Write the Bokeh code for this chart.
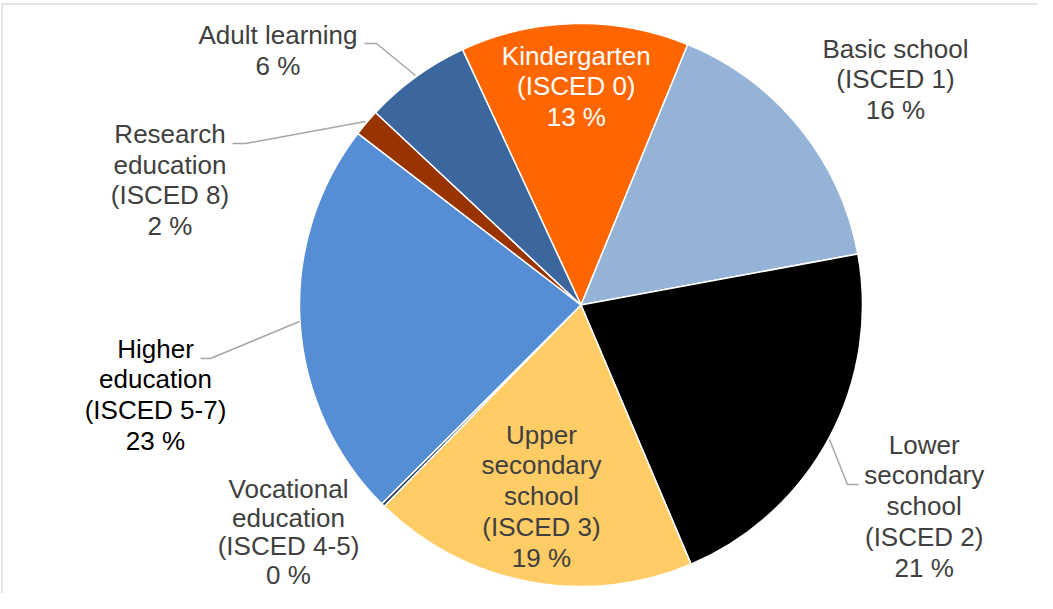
import numpy as np
from bokeh.plotting import figure
from bokeh.models import Range1d, ColumnDataSource
from bokeh.embed import file_html
from bokeh.resources import INLINE
from bokeh.core.properties import value

# ---------------- data ----------------
categories = ["Kindergarten (ISCED 0)", "Basic school (ISCED 1)",
              "Lower secondary school (ISCED 2)", "Upper secondary school (ISCED 3)",
              "Vocational education (ISCED 4-5)", "Higher education (ISCED 5-7)",
              "Research education (ISCED 8)", "Adult learning"]
shares = [13.1, 15.9, 21.5, 18.7, 0.2, 22.9, 1.55, 6.1]
pct_text = ["13 %", "16 %", "21 %", "19 %", "0 %", "23 %", "2 %", "6 %"]
name_lines = [["Kindergarten", "(ISCED 0)"],
              ["Basic school", "(ISCED 1)"],
              ["Lower", "secondary", "school", "(ISCED 2)"],
              ["Upper", "secondary", "school", "(ISCED 3)"],
              ["Vocational", "education", "(ISCED 4-5)"],
              ["Higher", "education", "(ISCED 5-7)"],
              ["Research", "education", "(ISCED 8)"],
              ["Adult learning"]]

# ---------------- styles / layout ----------------
slice_colors = ["#FF6600", "#95B3D7", "#000000", "#FFCC66",
                "#243F60", "#558ED5", "#993300", "#3B679E"]
label_colors = ["#FFFFFF", "#404040", "#404040", "#404040",
                "#404040", "#000000", "#404040", "#404040"]
# label anchor (center x, first baseline y) in page pixels
label_anchor = [(583.8, 72.7), (903, 65.7), (931.7, 461.7), (549, 451.7),
                (296, 506), (163, 365.7), (177.5, 151), (285.5, 52)]
LINE_STEP = 30.7
TEXT_SHIFT = 9.5  # renderer baseline correction
leaders = [
    [(372, 51), (384, 51), (423, 83)],
    [(240, 151), (253, 151), (373, 129)],
    [(208, 366), (218, 366), (307, 329)],
    [(837, 447), (855, 492), (866, 492)],
]

W, H = 1037, 593


def X(px):
    return px - 8


def Y(py):
    return 8 + H - py


CX, CY, R = X(588.5), Y(312.5), 281.5
START = -24.9  # degrees clockwise from 12 o'clock

p = figure(width=W, height=H, x_range=Range1d(0, W), y_range=Range1d(0, H),
           x_axis_type=None, y_axis_type=None, toolbar_location=None,
           output_backend="svg", min_border=0, outline_line_color=None,
           background_fill_color="white", border_fill_color="white")
p.grid.visible = False

# chart frame
p.line([X(9.5), X(9.5), X(1100)], [Y(700), Y(11.5), Y(11.5)],
       line_color="#D9D9D9", line_width=1.3)

# wedges
frac = np.array(shares, dtype=float) / np.sum(shares)
cum = np.concatenate([[0.0], np.cumsum(frac)]) * 360.0 + START
src = ColumnDataSource(dict(
    cat=categories,
    start=np.radians(90.0 - cum[1:]),
    end=np.radians(90.0 - cum[:-1]),
    color=slice_colors,
))
p.wedge(x=CX, y=CY, radius=R, start_angle="start", end_angle="end",
        direction="anticlock", fill_color="color", line_color="white",
        line_width=1.5, source=src)

# leader lines
for pts in leaders:
    p.line([X(a) for a, b in pts], [Y(b) for a, b in pts],
           line_color="#A6A6A6", line_width=1.5)

# labels
lx, ly, lt, lc = [], [], [], []
for i in range(len(categories)):
    lines = name_lines[i] + [pct_text[i]]
    ax, ay = label_anchor[i]
    step = LINE_STEP if i != 4 else 28.5
    for k, t in enumerate(lines):
        lx.append(X(ax))
        ly.append(Y(ay + k * step - TEXT_SHIFT))
        lt.append(t)
        lc.append(label_colors[i])
lsrc = ColumnDataSource(dict(x=lx, y=ly, text=lt, color=lc))
p.text(x="x", y="y", text="text", text_color="color", source=lsrc,
       text_align="center", text_baseline="alphabetic",
       text_font=value("Liberation Sans"), text_font_size=value("26px"))

open("out.html", "w").write(file_html(p, INLINE))
